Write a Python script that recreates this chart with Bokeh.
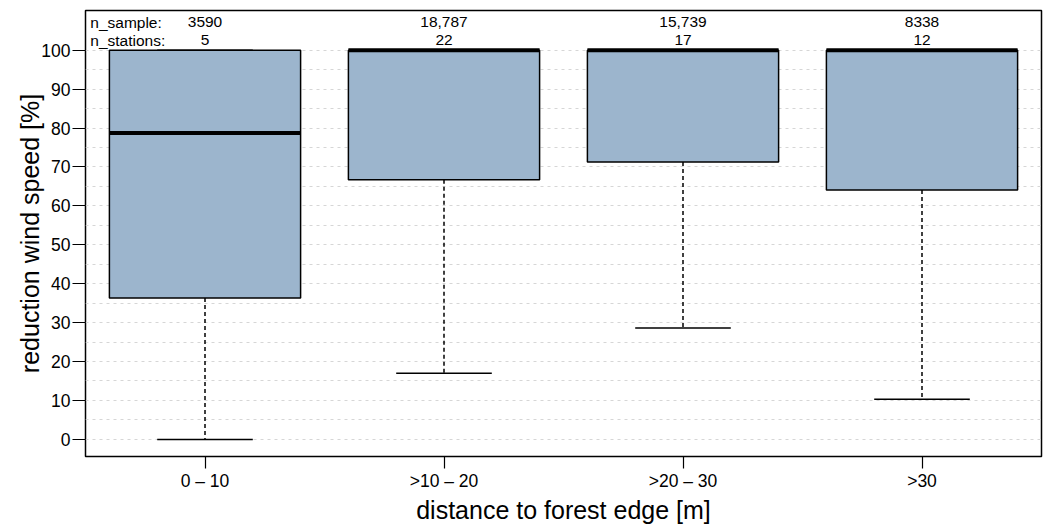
from bokeh.plotting import figure
from bokeh.models import FixedTicker, ColumnDataSource
from bokeh.core.properties import value
from bokeh.embed import file_html
from bokeh.resources import INLINE

categories = ["0 \u2013 10", ">10 \u2013 20", ">20 \u2013 30", ">30"]
lower_whisker = [0.0, 17.0, 28.6, 10.3]
q1 = [36.3, 66.7, 71.3, 64.1]
median = [78.7, 100.0, 100.0, 100.0]
q3 = [100.0, 100.0, 100.0, 100.0]
upper_whisker = [100.0, 100.0, 100.0, 100.0]
n_sample = ["3590", "18,787", "15,739", "8338"]
n_stations = ["5", "22", "17", "12"]

FONT = "Liberation Sans"
xs = list(range(1, len(categories) + 1))

src = ColumnDataSource(dict(
    x=xs, lw=lower_whisker, q1=q1, med=median, q3=q3, uw=upper_whisker,
    x0=[x - 0.4 for x in xs], x1=[x + 0.4 for x in xs],
    c0=[x - 0.2 for x in xs], c1=[x + 0.2 for x in xs],
    ns=n_sample, nst=n_stations,
))

p = figure(width=1046, height=526, output_backend="svg", toolbar_location=None,
           x_range=(0.5, 4.5), y_range=(-4.4, 110.2),
           min_border_left=85, min_border_right=5, min_border_top=10, min_border_bottom=67)

p.background_fill_color = "white"
p.border_fill_color = "white"
p.outline_line_color = "black"
p.outline_line_width = 1.5

# grid
p.xgrid.grid_line_color = None
p.ygrid.ticker = FixedTicker(ticks=list(range(0, 101, 5)))
p.ygrid.grid_line_color = "#d6d6d6"
p.ygrid.grid_line_dash = "3 4"
p.ygrid.grid_line_width = 1

# axes
for ax in (p.xaxis[0], p.yaxis[0]):
    ax.axis_line_color = None
    ax.major_tick_line_color = "black"
    ax.major_tick_line_width = 1.2
    ax.major_tick_in = 0
    ax.minor_tick_line_color = None
    ax.major_label_text_font = FONT
    ax.major_label_text_font_size = "17.5px"
    ax.major_label_text_color = "black"
    ax.axis_label_text_font = FONT
    ax.axis_label_text_font_style = "normal"
    ax.axis_label_text_font_size = "25px"
    ax.axis_label_text_color = "black"

p.xaxis.ticker = FixedTicker(ticks=xs)
p.xaxis.major_label_overrides = {x: c for x, c in zip(xs, categories)}
p.xaxis.major_tick_out = 12
p.xaxis.major_label_standoff = 2
p.xaxis.axis_label = "distance to forest edge [m]"
p.xaxis.axis_label_standoff = 2

p.yaxis.ticker = FixedTicker(ticks=list(range(0, 101, 10)))
p.yaxis.major_tick_out = 13
p.yaxis.major_label_standoff = 2
p.yaxis.axis_label = "reduction wind speed [%]"
p.yaxis.axis_label_standoff = -6

# whiskers
p.segment(x0="x", y0="q1", x1="x", y1="lw", source=src, line_color="black",
          line_width=1.5, line_dash="4 3")
p.segment(x0="x", y0="q3", x1="x", y1="uw", source=src, line_color="black",
          line_width=1.5, line_dash="4 3")
# boxes
p.quad(left="x0", right="x1", bottom="q1", top="q3", source=src,
       fill_color="#9cb5cd", line_color="black", line_width=1.5)
# medians
p.segment(x0="x0", y0="med", x1="x1", y1="med", source=src, line_color="black",
          line_width=4)
# caps
p.segment(x0="c0", y0="lw", x1="c1", y1="lw", source=src, line_color="black",
          line_width=1.5)
p.segment(x0="c0", y0="uw", x1="c1", y1="uw", source=src, line_color="black",
          line_width=1.5)

# annotations
p.text(x="x", y=107.2, text="ns", source=src, text_align="center",
       text_baseline="middle", text_font=value(FONT), text_font_size="15.5px",
       text_color="black")
p.text(x="x", y=102.6, text="nst", source=src, text_align="center",
       text_baseline="middle", text_font=value(FONT), text_font_size="15.5px",
       text_color="black")
p.text(x=[0.52, 0.52], y=[107.2, 102.6], text=["n_sample:", "n_stations:"],
       text_align="left", text_baseline="middle", text_font=value(FONT),
       text_font_size="15.5px", text_color="black")

open("out.html", "w").write(file_html(p, INLINE))
